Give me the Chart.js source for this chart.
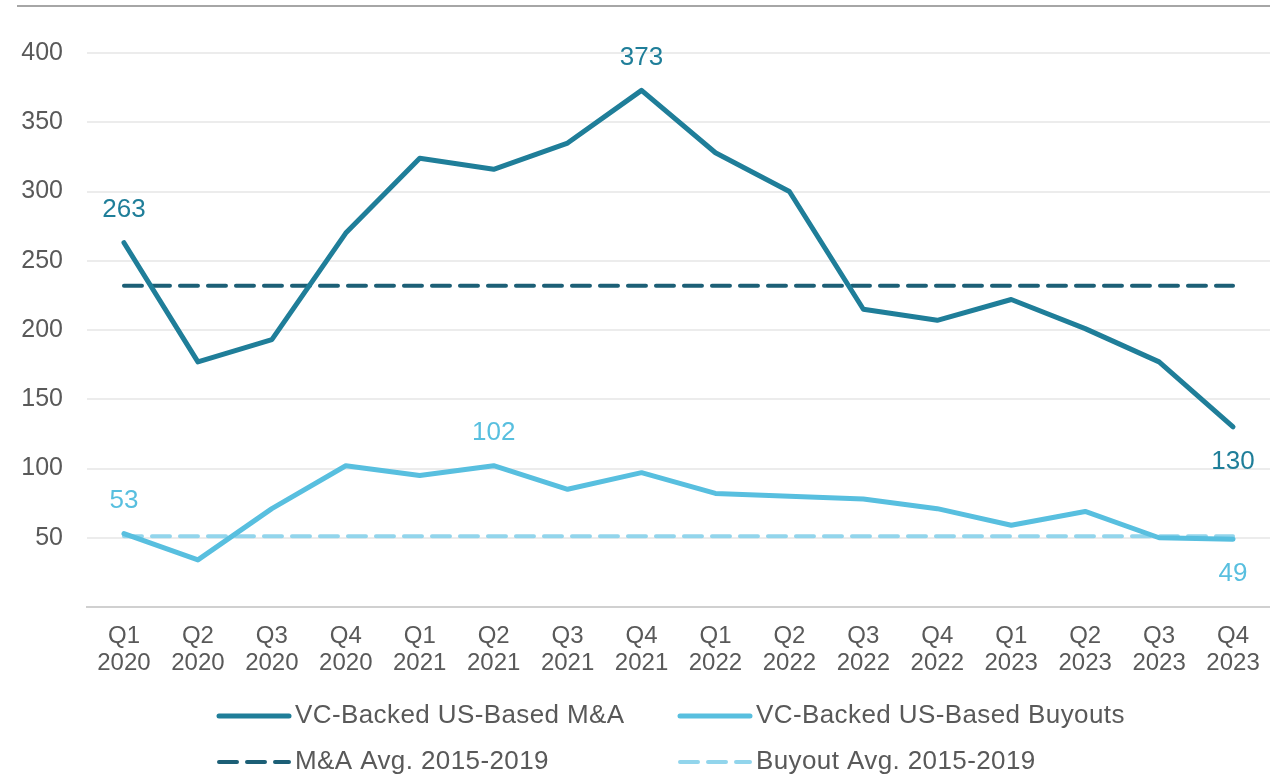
<!DOCTYPE html>
<html>
<head>
<meta charset="utf-8">
<script src="https://cdn.jsdelivr.net/npm/chart.js@4"></script>
<style>
  html, body { margin: 0; padding: 0; background: #fff; }
  #wrap { position: relative; width: 1270px; height: 777px; }
  #topline { position: absolute; left: 17px; right: 0; top: 5px; height: 2px; background: #a6a6a6; }
</style>
</head>
<body>
<div id="wrap">
  <div id="topline"></div>
  <canvas id="deals" width="1270" height="777"></canvas>
</div>
<script>
const quarters = [
  ["Q1", "2020"], ["Q2", "2020"], ["Q3", "2020"], ["Q4", "2020"],
  ["Q1", "2021"], ["Q2", "2021"], ["Q3", "2021"], ["Q4", "2021"],
  ["Q1", "2022"], ["Q2", "2022"], ["Q3", "2022"], ["Q4", "2022"],
  ["Q1", "2023"], ["Q2", "2023"], ["Q3", "2023"], ["Q4", "2023"],
];
const maDeals = [263, 177, 193, 270, 324, 316, 335, 373, 328, 300, 215, 207, 222, 201, 177, 130];
const buyoutDeals = [53, 34, 71, 102, 95, 102, 85, 97, 82, 80, 78, 71, 59, 69, 50, 49];
const maAvg = [232, 232, 232, 232, 232, 232, 232, 232, 232, 232, 232, 232, 232, 232, 232, 232];
const buyoutAvg = [51, 51, 51, 51, 51, 51, 51, 51, 51, 51, 51, 51, 51, 51, 51, 51];
const yTicks = [0, 50, 100, 150, 200, 250, 300, 350, 400];

const FONT = "'Liberation Sans', Arial, sans-serif";
const TEXT = "#595959";

// draws the value labels on chosen points
const pointLabels = {
  id: "pointLabels",
  afterDatasetsDraw(chart) {
    const ctx = chart.ctx;
    chart.data.datasets.forEach((ds, i) => {
      if (!ds.labelAt) return;
      const meta = chart.getDatasetMeta(i);
      ctx.save();
      ctx.font = "26px " + FONT;
      ctx.fillStyle = ds.borderColor;
      ctx.textAlign = "center";
      ctx.textBaseline = "middle";
      Object.keys(ds.labelAt).forEach((k) => {
        const pt = meta.data[k];
        const dy = ds.labelAt[k] === "above" ? -33 : 35;
        ctx.fillText(String(ds.data[k]), pt.x, pt.y + dy);
      });
      ctx.restore();
    });
  },
};

// excel-style legend, two aligned columns
const gridLegend = {
  id: "gridLegend",
  afterDraw(chart) {
    const ctx = chart.ctx;
    const cols = [217, 678];
    const rows = [716, 762];
    chart.data.datasets.forEach((ds, i) => {
      const x = cols[i % 2];
      const y = rows[Math.floor(i / 2)];
      ctx.save();
      ctx.strokeStyle = ds.borderColor;
      ctx.lineWidth = ds.borderWidth;
      ctx.lineCap = "round";
      ctx.setLineDash(ds.borderDash || []);
      ctx.beginPath();
      ctx.moveTo(x + 2, y);
      ctx.lineTo(x + 72, y);
      ctx.stroke();
      ctx.setLineDash([]);
      ctx.font = "26px " + FONT;
      ctx.letterSpacing = "0.4px";
      ctx.fillStyle = TEXT;
      ctx.textBaseline = "middle";
      ctx.fillText(ds.label, x + 78, y);
      ctx.restore();
    });
  },
};

new Chart(document.getElementById("deals"), {
  type: "line",
  data: {
    labels: quarters,
    datasets: [
      {
        label: "VC-Backed US-Based M&A",
        data: maDeals,
        borderColor: "#1f7e99",
        borderWidth: 5,
        labelAt: { 0: "above", 7: "above", 15: "below" },
      },
      {
        label: "VC-Backed US-Based Buyouts",
        data: buyoutDeals,
        borderColor: "#58bfdf",
        borderWidth: 5,
        labelAt: { 0: "above", 5: "above", 15: "below" },
      },
      {
        label: "M&A Avg. 2015-2019",
        data: maAvg,
        borderColor: "#1c5f76",
        borderWidth: 4,
        borderDash: [18, 10],
      },
      {
        label: "Buyout Avg. 2015-2019",
        data: buyoutAvg,
        borderColor: "#92d5ec",
        borderWidth: 4,
        borderDash: [18, 10],
      },
    ],
  },
  options: {
    responsive: false,
    animation: false,
    layout: { padding: { top: 53, right: 0, left: 0, bottom: 102 } },
    elements: {
      point: { radius: 0 },
      line: { tension: 0, borderJoinStyle: "round", borderCapStyle: "round" },
    },
    plugins: {
      legend: { display: false },
      tooltip: { enabled: false },
    },
    scales: {
      x: {
        offset: true,
        grid: { display: false },
        border: { color: "#d0d0d0", width: 2 },
        ticks: {
          color: TEXT,
          font: { family: FONT, size: 24, lineHeight: 1.12 },
          padding: 8,
          maxRotation: 0,
          autoSkip: false,
        },
        afterFit(scale) { scale.height = 68; },
      },
      y: {
        min: 0,
        max: 400,
        afterBuildTicks(scale) { scale.ticks = yTicks.map((v) => ({ value: v })); },
        grid: { color: "#ececec", lineWidth: 2, drawTicks: false },
        border: { display: false },
        ticks: {
          color: TEXT,
          font: { family: FONT, size: 25 },
          padding: 24,
          callback: (v) => (v === 0 ? "" : v),
        },
        afterFit(scale) { scale.width = 87; },
      },
    },
  },
  plugins: [pointLabels, gridLegend],
});
</script>
</body>
</html>
